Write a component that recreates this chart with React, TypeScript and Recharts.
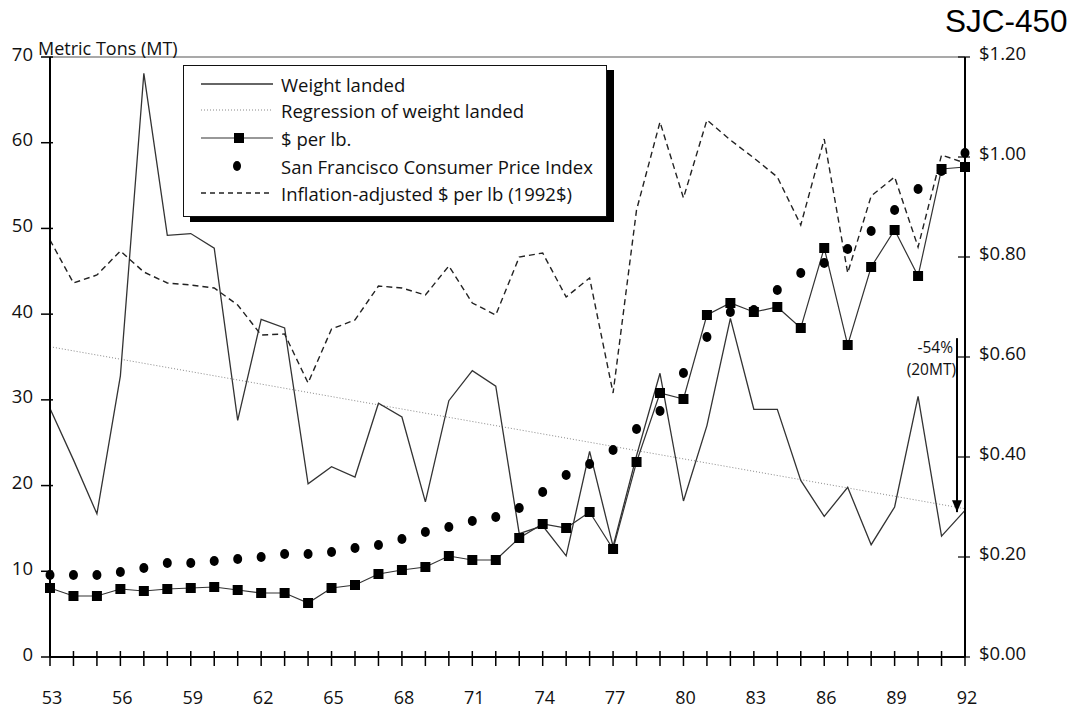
import React from "react";
import {
  ComposedChart,
  Line,
  XAxis,
  YAxis,
  ReferenceLine,
  ReferenceDot,
  Legend,
} from "recharts";

// ---- data ----
const years = [
  53, 54, 55, 56, 57, 58, 59, 60, 61, 62, 63, 64, 65, 66, 67, 68, 69, 70, 71, 72,
  73, 74, 75, 76, 77, 78, 79, 80, 81, 82, 83, 84, 85, 86, 87, 88, 89, 90, 91, 92,
];
const weightLanded = [
  29.0, 23.0, 16.7, 32.8, 68.1, 49.2, 49.4, 47.7, 27.6, 39.4, 38.4, 20.2, 22.2, 21.0,
  29.6, 28.0, 18.1, 29.9, 33.4, 31.6, 14.4, 15.3, 11.8, 24.0, 12.9, 23.5, 33.1, 18.2,
  27.0, 39.5, 28.9, 28.9, 20.6, 16.4, 19.8, 13.1, 17.5, 30.4, 14.1, 17.1,
];
const dollarsPerLb = [
  0.138, 0.122, 0.122, 0.136, 0.132, 0.136, 0.138, 0.14, 0.134, 0.128, 0.128, 0.108,
  0.138, 0.144, 0.166, 0.174, 0.18, 0.202, 0.194, 0.194, 0.238, 0.266, 0.258, 0.29,
  0.216, 0.39, 0.528, 0.516, 0.684, 0.708, 0.69, 0.7, 0.658, 0.818, 0.624, 0.78,
  0.854, 0.762, 0.976, 0.98,
];
const sfCpi = [
  0.164, 0.164, 0.164, 0.17, 0.178, 0.188, 0.188, 0.192, 0.196, 0.2, 0.206, 0.206,
  0.21, 0.218, 0.224, 0.236, 0.25, 0.26, 0.272, 0.28, 0.298, 0.33, 0.364, 0.386,
  0.414, 0.456, 0.492, 0.568, 0.64, 0.69, 0.694, 0.734, 0.768, 0.788, 0.816, 0.852,
  0.894, 0.936, 0.972, 1.008,
];
const inflationAdjusted = [
  0.834, 0.748, 0.764, 0.812, 0.77, 0.748, 0.744, 0.738, 0.704, 0.644, 0.646, 0.548,
  0.656, 0.674, 0.742, 0.738, 0.724, 0.782, 0.708, 0.684, 0.8, 0.808, 0.72, 0.758,
  0.528, 0.894, 1.07, 0.918, 1.074, 1.034, 0.998, 0.96, 0.864, 1.036, 0.768, 0.922,
  0.96, 0.82, 1.004, 0.988,
];
// regression of weight landed: fitted values at first and last year
const regressionYears = [53, 92];
const regressionValues = [36.2, 17.3];

const leftTicks = [0, 10, 20, 30, 40, 50, 60, 70];
const rightTicks = [0, 0.2, 0.4, 0.6, 0.8, 1.0, 1.2];
const xTickLabels = [53, 56, 59, 62, 65, 68, 71, 74, 77, 80, 83, 86, 89, 92];

const legendLabels = [
  "Weight landed",
  "Regression of weight landed",
  "$ per lb.",
  "San Francisco Consumer Price Index",
  "Inflation-adjusted $ per lb (1992$)",
];

// annotation: drop of regression line
const arrowYear = 91.66;
const arrowTop = 37.2;
const arrowBottom = 16.9;
const annotationLines = ["-54%", "(20MT)"];

const data = years.map((yr, i) => {
  const ri = regressionYears.indexOf(yr);
  return {
    year: yr,
    weight: weightLanded[i],
    dollars: dollarsPerLb[i],
    cpi: sfCpi[i],
    inflation: inflationAdjusted[i],
    regression: ri >= 0 ? regressionValues[ri] : null,
  };
});

const FONT = "'Open Sans', 'DejaVu Sans', sans-serif";

const LeftTick = (props: any) => {
  const { x, y, payload } = props;
  return (
    <g>
      <line x1={x - 9} x2={x + 3} y1={y} y2={y} stroke="#000" strokeWidth={1.5} />
      <text
        x={x - 17}
        y={y - 4}
        textAnchor="end"
        dominantBaseline="central"
        fontSize={18.5}
        fontFamily={FONT}
        fill="#111"
      >
        {payload.value}
      </text>
      {payload.value === 70 && (
        <text x={x - 12} y={y - 9} fontSize={18} fontFamily={FONT} fill="#111" dominantBaseline="central">
          Metric Tons (MT)
        </text>
      )}
    </g>
  );
};

const RightTick = (props: any) => {
  const { x, y, payload } = props;
  return (
    <g>
      <line x1={x - 7} x2={x + 5} y1={y} y2={y} stroke="#000" strokeWidth={1.2} />
      <text
        x={x + 14}
        y={y - 5}
        textAnchor="start"
        dominantBaseline="central"
        fontSize={18.5}
        fontFamily={FONT}
        fill="#111"
      >
        {"$" + Number(payload.value).toFixed(2)}
      </text>
    </g>
  );
};

const BottomTick = (props: any) => {
  const { x, y, payload } = props;
  const show = xTickLabels.includes(payload.value);
  return (
    <g>
      <line x1={x} x2={x} y1={y - 6} y2={y + 9} stroke="#000" strokeWidth={1.5} />
      {show && (
        <text
          x={x + 2}
          y={y + 40}
          textAnchor="middle"
          dominantBaseline="central"
          fontSize={18}
          fontFamily={FONT}
          fill="#111"
        >
          {payload.value}
        </text>
      )}
    </g>
  );
};

const renderSquare = (props: any) => {
  const { cx, cy, index } = props;
  if (cx == null || cy == null) return <g key={`sq-${index}`} />;
  return <rect key={`sq-${index}`} x={cx - 5} y={cy - 5} width={10} height={10} fill="#000" />;
};

const renderCircle = (props: any) => {
  const { cx, cy, index } = props;
  if (cx == null || cy == null) return <g key={`ci-${index}`} />;
  return <ellipse key={`ci-${index}`} cx={cx} cy={cy} rx={4.5} ry={5} fill="#000" />;
};

const LegendBox = () => {
  const rowY = [18, 44, 72, 100, 127];
  const x1 = 17;
  const x2 = 89;
  return (
    <div
      style={{
        width: 424,
        height: 152,
        boxSizing: "border-box",
        border: "1.5px solid #111",
        background: "#fff",
        boxShadow: "7px 5px 0 #000",
      }}
    >
      <svg width={421} height={149} style={{ display: "block" }}>
        <line x1={x1} x2={x2} y1={rowY[0]} y2={rowY[0]} stroke="#333" strokeWidth={1.3} />
        <line x1={x1} x2={x2} y1={rowY[1]} y2={rowY[1]} stroke="#888" strokeWidth={1} strokeDasharray="1 2" />
        <line x1={x1} x2={x2} y1={rowY[2]} y2={rowY[2]} stroke="#333" strokeWidth={1.2} />
        <rect x={50} y={rowY[2] - 5} width={10} height={10} fill="#000" />
        <ellipse cx={53} cy={rowY[3]} rx={4} ry={5} fill="#000" />
        <line x1={x1} x2={x2} y1={rowY[4]} y2={rowY[4]} stroke="#222" strokeWidth={1.3} strokeDasharray="5 4" />
        {legendLabels.map((lab, i) => (
          <text
            key={lab}
            x={97}
            y={rowY[i]}
            dominantBaseline="central"
            fontSize={18.5}
            fontFamily={FONT}
            fill="#111"
          >
            {lab}
          </text>
        ))}
      </svg>
    </div>
  );
};

const ArrowHead = (props: any) => {
  const { cx, cy } = props;
  if (cx == null || cy == null) return <g />;
  return <polygon points={`${cx - 5},${cy - 12} ${cx + 5},${cy - 12} ${cx},${cy}`} fill="#000" />;
};

const AnnotationText = (props: any) => {
  const { cx, cy } = props;
  if (cx == null || cy == null) return <g />;
  return (
    <g>
      <text x={cx - 4} y={cy + 9} textAnchor="end" dominantBaseline="central" fontSize={15.5} fontFamily={FONT} fill="#111">
        {annotationLines[0]}
      </text>
      <text x={cx - 1} y={cy + 31} textAnchor="end" dominantBaseline="central" fontSize={15.5} fontFamily={FONT} fill="#111">
        {annotationLines[1]}
      </text>
    </g>
  );
};

export default function App() {
  return (
    <div style={{ position: "absolute", left: 0, top: 0, width: 1072, height: 711, background: "#fff" }}>
      <div
        style={{
          position: "absolute",
          left: 945,
          top: 3,
          fontFamily: "'Liberation Sans', Arial, sans-serif",
          fontSize: 31.5,
          lineHeight: "36px",
          color: "#000",
          zIndex: 2,
        }}
      >
        SJC-450
      </div>
      <ComposedChart
        width={1072}
        height={711}
        data={data}
        margin={{ top: 57, right: 0, bottom: 0, left: 0 }}
      >
        <XAxis
          dataKey="year"
          type="number"
          domain={[53, 92]}
          ticks={years}
          interval={0}
          tickSize={0}
          tickMargin={0}
          tickLine={false}
          tick={<BottomTick />}
          axisLine={{ stroke: "#000", strokeWidth: 2 }}
          height={54}
        />
        <YAxis
          yAxisId="left"
          domain={[0, 70]}
          ticks={leftTicks}
          interval={0}
          width={50}
          tickSize={0}
          tickMargin={0}
          tickLine={false}
          tick={<LeftTick />}
          axisLine={{ stroke: "#000", strokeWidth: 2 }}
        />
        <YAxis
          yAxisId="right"
          orientation="right"
          domain={[0, 1.2]}
          ticks={rightTicks}
          interval={0}
          width={107}
          tickSize={0}
          tickMargin={0}
          tickLine={false}
          tick={<RightTick />}
          axisLine={{ stroke: "#000", strokeWidth: 2 }}
        />
        <ReferenceLine yAxisId="left" y={70} stroke="#555" strokeWidth={1.2} />
        <Legend
          layout="horizontal"
          verticalAlign="middle"
          align="center"
          content={() => <LegendBox />}
          wrapperStyle={{ position: "absolute", left: 183, top: 65, width: 424, height: 152 }}
        />
        <Line
          yAxisId="left"
          dataKey="regression"
          connectNulls
          stroke="#888"
          strokeWidth={1}
          strokeDasharray="1 2"
          dot={false}
          activeDot={false}
          isAnimationActive={false}
        />
        <Line
          yAxisId="left"
          dataKey="weight"
          stroke="#333"
          strokeWidth={1.3}
          dot={false}
          activeDot={false}
          isAnimationActive={false}
        />
        <Line
          yAxisId="right"
          dataKey="inflation"
          stroke="#222"
          strokeWidth={1.4}
          strokeDasharray="6 4"
          dot={false}
          activeDot={false}
          isAnimationActive={false}
        />
        <Line
          yAxisId="right"
          dataKey="cpi"
          stroke="none"
          dot={renderCircle}
          activeDot={false}
          isAnimationActive={false}
        />
        <Line
          yAxisId="right"
          dataKey="dollars"
          stroke="#333"
          strokeWidth={1.2}
          dot={renderSquare}
          activeDot={false}
          isAnimationActive={false}
        />
        <ReferenceLine
          yAxisId="left"
          segment={[
            { x: arrowYear, y: arrowTop },
            { x: arrowYear, y: arrowBottom },
          ]}
          stroke="#000"
          strokeWidth={2}
        />
        <ReferenceDot yAxisId="left" x={arrowYear} y={arrowBottom} r={0} shape={<ArrowHead />} />
        <ReferenceDot yAxisId="left" x={arrowYear} y={arrowTop} r={0} shape={<AnnotationText />} />
      </ComposedChart>
    </div>
  );
}
